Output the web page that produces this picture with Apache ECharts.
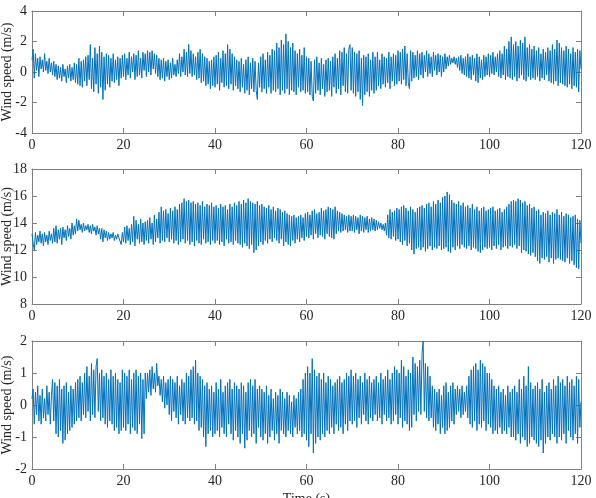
<!DOCTYPE html>
<html><head><meta charset="utf-8">
<script src="https://cdn.jsdelivr.net/npm/echarts@6/dist/echarts.min.js"></script>
<style>html,body{margin:0;padding:0;background:#fff}#c{width:596px;height:498px}</style>
</head><body><div id="c"></div>
<script>
const timeStep = 0.25; // s between samples
const xTicks = [0, 20, 40, 60, 80, 100, 120];
const yLabel = 'Wind speed (m/s)';
const xLabel = 'Time (s)';

const speed1 = [
0.8,1.5,-0.4,1.2,0.1,0.9,-0.3,1.0,0.2,0.8,0.0,1.2,0.1,0.7,-0.1,0.9,0.0,0.6,-0.2,0.7,
-0.3,0.5,-0.5,0.4,-0.4,0.3,-0.6,0.5,-0.3,0.2,-0.7,0.4,-0.4,0.5,-0.6,0.3,-0.5,0.6,-0.7,0.5,
-0.8,0.9,-0.9,0.7,-1.0,0.8,-0.6,1.0,-0.9,1.1,-0.5,1.8,-1.1,0.9,-1.3,1.6,-0.8,1.2,-1.4,1.7,
-1.0,1.3,-1.8,1.0,-1.2,1.2,-0.8,1.1,-1.0,0.9,-0.6,1.2,-0.7,0.8,-0.5,1.0,-0.9,0.9,-0.4,1.1,
-0.3,1.2,-0.5,0.9,-0.2,1.3,-0.4,1.0,0.0,1.2,-0.5,1.1,-0.3,1.4,-0.2,0.9,-0.4,1.3,0.1,1.2,
-0.3,1.4,0.0,1.3,-0.2,1.4,0.2,1.2,-0.1,1.1,-0.3,0.9,-0.5,0.8,-0.4,0.9,-0.6,0.7,-0.3,0.8,
-0.5,0.6,-0.4,0.9,-0.2,0.5,-0.3,0.8,-0.1,1.2,-0.3,1.0,0.0,1.5,-0.2,1.3,-0.3,1.8,-0.1,1.4,
-0.3,1.2,-0.2,1.0,-0.5,1.3,-0.4,1.5,-0.7,1.2,-0.6,1.0,-0.9,0.9,-0.8,0.7,-1.1,0.8,-0.9,1.0,
-1.0,1.1,-0.8,1.3,-1.2,0.9,-0.7,1.4,-1.0,1.2,-0.9,1.8,-1.1,1.5,-0.8,1.2,-1.2,1.0,-0.9,0.8,
-1.1,0.7,-1.3,0.9,-1.0,0.5,-1.4,0.8,-1.2,1.0,-1.5,0.6,-1.1,0.9,-1.3,0.7,-1.2,-1.8,0.6,-1.0,
1.0,-1.3,1.2,-1.1,0.8,-1.4,1.3,-1.0,1.1,-1.4,1.5,-1.2,1.4,-1.3,1.9,-1.1,1.6,-1.5,2.1,-1.2,
1.8,-1.4,2.5,-1.1,2.0,-1.5,1.6,-1.2,1.9,-1.3,1.4,-1.5,1.2,-1.0,1.5,-1.3,1.1,-1.2,1.6,-1.4,
1.0,-1.3,0.9,-1.5,0.7,-1.6,-1.9,0.8,-1.4,1.0,-1.2,0.6,-1.5,0.9,-1.1,0.5,-1.6,0.8,-1.3,0.9,
-1.2,0.7,-1.6,1.0,-1.0,1.2,-1.4,0.9,-1.1,1.4,-1.5,1.3,-0.9,1.6,-1.3,1.2,-1.4,1.5,1.8,-1.2,
1.6,-1.4,1.3,-1.6,1.2,-1.3,1.4,-1.8,0.9,-2.2,1.1,-1.5,1.0,-1.3,1.2,-1.6,0.8,-1.2,1.3,-1.4,
1.0,-1.2,1.3,-0.9,0.8,-1.1,1.2,-0.8,1.0,-1.0,0.9,-0.7,1.3,-1.1,1.0,-0.6,1.2,-0.9,1.1,-0.8,
1.4,-0.6,1.3,-0.8,1.5,-0.5,1.7,-0.9,1.2,-0.7,-1.1,1.4,-0.6,1.3,-0.4,1.1,-0.3,1.4,-0.5,1.2,
-0.2,1.3,-0.4,1.1,0.0,1.4,-0.3,1.2,-0.1,1.0,-0.3,1.3,0.1,1.1,-0.2,1.2,0.0,1.1,-0.3,1.0,
0.0,1.2,0.2,1.0,0.4,1.1,0.5,0.9,0.6,1.0,0.5,0.9,0.3,1.0,0.1,1.1,-0.1,0.9,-0.2,1.0,
-0.3,1.2,-0.4,1.0,-0.5,1.1,-0.2,0.9,-0.6,1.2,-0.7,1.0,-0.4,0.8,-0.5,1.1,-0.3,1.0,-0.2,1.2,
-0.3,1.1,-0.1,1.3,-0.2,1.0,0.0,1.2,-0.3,1.4,-0.4,1.2,-0.2,1.7,-0.5,1.5,-0.3,2.0,-0.4,2.3,
-0.5,1.8,-0.3,2.0,-0.6,1.7,-0.4,2.1,-0.2,1.9,-0.5,2.3,-0.6,1.6,-0.3,1.8,-0.5,1.5,-0.4,1.7,
-0.5,1.4,-0.3,1.6,-0.6,1.2,-0.4,1.5,-0.5,1.3,-0.2,1.6,-0.6,1.4,-0.7,1.8,-0.8,1.5,-0.6,2.1,
-0.9,1.9,-0.7,1.6,-0.8,1.4,-0.9,1.7,-1.0,1.5,-0.8,1.2,-1.1,1.6,-0.9,1.3,-1.0,1.5,-1.3,1.4,
0.2];

const speed2 = [
13.2,12.5,12.0,13.3,12.4,13.1,12.6,13.4,12.5,13.2,12.3,13.3,12.6,13.1,12.4,13.4,12.7,13.2,12.5,13.6,
12.6,13.8,12.5,13.5,12.8,13.6,12.4,13.7,12.9,13.5,12.7,13.8,13.0,13.6,12.8,14.0,13.1,13.8,13.2,14.3,
13.4,14.2,13.5,13.9,13.3,14.0,13.4,13.8,13.5,13.9,13.3,13.8,13.2,13.9,13.4,13.7,13.1,13.8,13.2,13.6,
12.8,13.6,12.6,13.5,12.9,13.4,12.7,13.3,12.8,13.2,12.9,13.3,12.7,13.1,12.8,13.2,12.9,13.0,12.4,13.3,
12.6,13.7,12.5,13.8,12.7,13.6,12.4,13.9,12.6,14.5,12.3,14.2,12.8,13.9,12.5,14.3,12.6,14.0,12.4,14.1,
12.7,14.2,12.5,14.4,12.8,14.0,12.4,14.6,12.6,14.3,12.9,14.8,12.5,15.2,12.7,14.9,12.6,15.0,12.9,14.7,
12.6,15.1,12.8,14.9,12.5,15.2,12.7,15.0,12.4,15.4,12.6,15.5,12.8,15.8,12.5,15.6,12.7,15.7,12.4,15.5,
12.6,15.6,12.3,15.4,12.7,15.5,12.5,15.3,12.4,15.6,12.8,15.2,12.5,15.4,12.6,15.3,12.4,15.5,12.7,15.2,
12.5,15.3,12.7,15.1,12.4,15.4,12.6,15.2,12.3,15.3,12.8,15.0,12.5,15.4,12.6,15.2,12.4,15.5,12.7,15.3,
12.5,15.6,12.4,15.4,12.2,15.7,12.5,15.5,12.3,15.8,12.1,15.6,12.4,15.5,11.8,15.4,12.0,15.6,12.3,15.3,
12.6,15.4,12.4,15.2,12.7,15.1,12.5,15.3,12.8,15.0,12.6,15.2,12.9,14.9,12.7,15.1,12.5,15.0,12.8,14.8,
12.3,14.9,12.6,14.7,12.4,14.6,12.3,14.5,12.7,14.6,12.5,14.4,12.8,14.5,12.6,14.6,12.9,14.4,12.7,14.7,
13.0,14.8,12.9,14.6,13.1,14.9,12.8,15.0,13.2,14.7,12.9,14.8,13.1,15.1,13.0,14.9,12.8,15.0,13.2,15.2,
13.0,15.1,12.9,15.0,12.8,15.2,13.2,14.9,13.4,14.8,13.3,14.7,13.4,14.6,13.5,14.5,13.3,14.6,13.4,14.5,
13.4,14.6,13.3,14.5,13.5,14.4,13.2,14.6,13.4,14.5,13.3,14.4,13.5,14.5,13.3,14.3,13.4,14.4,13.5,14.3,
13.4,14.2,13.5,14.1,13.6,14.0,13.5,13.9,13.4,14.0,13.1,14.6,12.9,15.0,12.8,14.8,13.0,14.9,12.7,15.1,
12.8,15.0,12.6,15.2,12.4,15.3,12.7,15.1,12.3,14.9,12.5,15.2,12.0,15.0,11.7,14.8,12.1,15.1,12.2,15.2,
12.0,15.3,12.2,15.1,11.9,15.4,12.1,15.5,12.3,15.2,12.0,15.6,12.2,15.4,12.1,15.7,12.3,15.5,12.0,15.9,
12.1,16.0,12.2,16.3,11.9,16.1,11.8,15.7,12.2,15.5,12.0,15.4,12.3,15.6,12.1,15.3,12.4,15.5,12.2,15.2,
12.1,15.3,12.3,15.1,12.0,15.4,12.2,15.0,12.1,15.2,11.9,14.9,11.8,15.1,12.0,15.2,12.2,14.9,12.1,15.0,
12.2,15.1,12.0,15.2,12.3,14.9,12.1,15.0,12.4,15.1,12.0,14.8,12.2,15.0,12.3,15.2,12.1,15.4,12.3,15.6,
12.2,15.7,12.4,15.6,12.1,15.8,12.3,15.7,11.8,15.5,12.0,15.6,11.9,15.3,11.7,15.4,11.6,15.1,11.8,15.2,
11.5,14.9,11.2,15.0,11.0,14.6,11.4,14.8,11.3,14.7,11.5,14.9,11.1,14.6,11.4,14.8,11.0,14.7,11.3,15.0,
11.4,14.6,11.3,14.8,11.2,14.5,11.1,14.7,11.4,14.6,11.0,14.4,11.2,14.5,10.9,14.6,10.7,14.3,10.6,14.2,
12.5];

const speed3 = [
0.2,0.5,-0.6,0.4,-0.3,0.6,-0.5,0.3,-0.6,0.5,-0.4,0.2,-0.5,0.6,-0.3,0.4,-0.6,0.3,0.8,-0.5,
0.7,-0.9,0.6,-1.0,0.8,-0.8,0.5,-1.2,0.6,-1.1,0.7,-0.9,0.4,-0.8,0.6,-0.7,0.5,-0.6,0.7,-0.5,
0.8,-0.4,0.9,-0.5,0.7,-0.3,1.0,-0.4,1.2,-0.2,0.9,-0.5,1.3,-0.3,1.1,-0.4,1.2,1.45,-0.2,1.0,
-0.5,1.1,-0.4,0.9,-0.6,1.0,-0.7,0.8,-0.5,1.1,-0.6,0.9,-0.8,1.0,-0.7,0.8,-0.9,0.7,-0.8,1.1,
-0.7,1.0,-0.8,0.9,-0.6,1.1,-0.9,0.8,-0.7,1.0,-0.8,1.1,-0.9,0.9,-0.6,1.0,-1.05,0.8,-0.9,1.0,
0.2,1.0,0.4,1.1,0.3,1.2,0.5,1.0,0.4,1.3,0.6,0.9,0.3,0.8,0.1,0.9,-0.1,0.7,0.0,0.8,
-0.3,0.9,-0.5,0.8,-0.2,0.7,-0.4,0.9,-0.6,0.6,-0.3,0.8,-0.5,0.7,-0.6,1.0,-0.4,0.9,-0.5,1.1,
-0.4,1.2,-0.6,1.4,-0.5,1.0,-0.8,0.9,-0.7,0.8,-1.0,0.6,-1.3,0.7,-0.9,0.5,-0.8,0.6,-1.0,0.4,
-0.9,0.7,-0.8,0.5,-1.0,0.8,-0.7,0.4,-0.9,0.6,-1.0,0.7,-0.6,0.8,-0.9,0.5,-1.1,0.7,-0.8,0.6,
-1.0,0.5,-1.2,0.7,-0.9,0.6,-1.35,0.4,-1.1,0.7,-0.8,0.8,-1.0,0.6,-0.9,0.8,-1.2,0.5,-0.7,0.6,
-1.0,0.5,-1.1,0.4,-0.9,0.6,-1.2,0.3,-1.0,0.5,-0.8,0.2,-1.1,0.4,-0.9,0.3,-1.2,0.5,-0.8,0.4,
-0.9,0.2,-1.0,0.4,-0.8,0.3,-0.9,0.1,-1.0,0.3,-0.7,0.2,-0.9,0.4,-0.8,0.5,-1.0,0.8,-0.9,1.0,
-1.1,1.2,-1.3,1.0,-0.9,1.45,-1.5,1.1,-1.2,0.9,-1.0,1.0,-1.1,0.8,-0.9,1.0,-1.0,0.7,-0.8,0.9,
-0.9,0.8,-0.7,0.6,-0.9,0.7,-0.6,0.8,-0.8,0.9,-0.7,0.7,-0.9,0.8,-0.6,1.0,-0.8,0.9,-0.5,1.1,
-0.6,0.9,-0.5,1.0,-0.7,0.8,-0.4,0.9,-0.6,0.7,-0.3,1.0,-0.5,0.8,-0.6,0.9,-0.4,0.7,-0.5,0.8,
-0.3,0.9,-0.5,0.7,-0.4,1.0,-0.6,0.8,-0.3,0.9,-0.5,1.1,-0.4,0.8,-0.6,1.0,-0.5,1.2,-0.3,1.1,
-0.6,1.0,-0.4,1.4,-0.7,1.2,-0.5,0.9,-0.6,1.1,-0.8,1.0,-0.7,1.5,-0.3,1.3,-0.5,1.2,-0.2,1.4,
-0.3,1.6,2.0,-0.2,1.3,-0.4,1.2,-0.5,0.9,-0.4,0.6,-0.7,0.5,-0.8,0.4,-0.6,0.5,-0.9,0.3,-0.7,
0.6,-0.9,0.7,-0.8,0.4,-0.7,0.6,-0.5,0.7,-0.6,0.5,-0.3,0.6,-0.2,0.5,-0.4,0.6,-0.3,0.4,-0.2,
0.6,-0.4,0.9,-0.6,1.1,-0.7,1.2,-0.5,1.3,-0.8,1.1,-0.6,1.4,-0.7,1.3,-0.5,1.2,-0.8,1.0,-0.6,
1.0,-0.7,0.8,-0.9,0.6,-0.8,0.5,-0.9,0.6,-0.7,0.4,-0.9,0.5,-0.8,0.3,-0.9,0.6,-0.7,0.4,-1.0,
0.5,-1.0,0.6,-1.1,0.4,-0.9,0.8,-1.2,0.5,-1.0,0.9,-1.1,0.6,-1.3,1.2,-1.2,0.7,-1.0,0.5,-1.1,
0.6,-1.2,0.7,-1.3,0.5,-1.1,0.8,-1.5,0.4,-1.2,0.6,-1.0,0.7,-1.1,0.5,-0.9,0.8,-1.0,0.6,-1.2,
0.9,-1.0,0.7,-1.1,0.8,-0.9,0.6,-1.2,0.9,-0.8,0.7,-1.0,0.8,-1.1,0.6,-0.9,0.9,-1.2,0.8,-0.7,
0.1];

const panels = [
  {data: speed1, yMin: -4, yMax: 4, yInt: 2, top: 11, height: 122},
  {data: speed2, yMin: 8, yMax: 18, yInt: 2, top: 169, height: 135},
  {data: speed3, yMin: -2, yMax: 2, yInt: 1, top: 341, height: 128}
];

const font = 'Liberation Serif';
const axisColor = '#808080';
const textColor = '#262626';
const lineColor = '#0072BD';

const grid = [], xAxis = [], yAxis = [], series = [];
panels.forEach((p, i) => {
  grid.push({left: 32, right: 15, top: p.top, height: p.height, containLabel: false, outerBoundsMode: 'none'});
  const common = {
    axisLine: {show: true, onZero: false, lineStyle: {color: axisColor, width: 1}},
    axisTick: {show: true, inside: true, length: 5, lineStyle: {color: axisColor}},
    splitLine: {show: false}
  };
  xAxis.push(Object.assign({}, common, {
    type: 'value', gridIndex: i, min: xTicks[0], max: xTicks[xTicks.length - 1], interval: 20,
    position: 'bottom',
    axisLabel: {color: textColor, fontFamily: font, fontSize: 14, margin: 5},
    name: i === 2 ? xLabel : '', nameLocation: 'middle', nameGap: 23, nameMoveOverlap: false,
    nameTextStyle: {color: textColor, fontFamily: font, fontSize: 14}
  }));
  xAxis.push(Object.assign({}, common, {
    type: 'value', gridIndex: i, min: xTicks[0], max: xTicks[xTicks.length - 1], interval: 20,
    position: 'top', axisLabel: {show: false}
  }));
  yAxis.push(Object.assign({}, common, {
    type: 'value', gridIndex: i, min: p.yMin, max: p.yMax, interval: p.yInt, position: 'left',
    axisLabel: {color: textColor, fontFamily: font, fontSize: 14, margin: 5},
    name: yLabel, nameLocation: 'middle', nameGap: 18, nameRotate: 90, nameMoveOverlap: false,
    nameTextStyle: {color: textColor, fontFamily: font, fontSize: 14}
  }));
  yAxis.push(Object.assign({}, common, {
    type: 'value', gridIndex: i, min: p.yMin, max: p.yMax, interval: p.yInt, position: 'right',
    axisLabel: {show: false}
  }));
  series.push({
    type: 'line', xAxisIndex: i * 2, yAxisIndex: i * 2, showSymbol: false, symbol: 'none',
    lineStyle: {color: lineColor, width: 1}, silent: true,
    data: p.data.map((v, k) => [k * timeStep, v])
  });
});

const chart = echarts.init(document.getElementById('c'), null, {renderer: 'canvas'});
chart.setOption({animation: false, backgroundColor: '#fff', grid, xAxis, yAxis, series});
</script>
</body></html>
